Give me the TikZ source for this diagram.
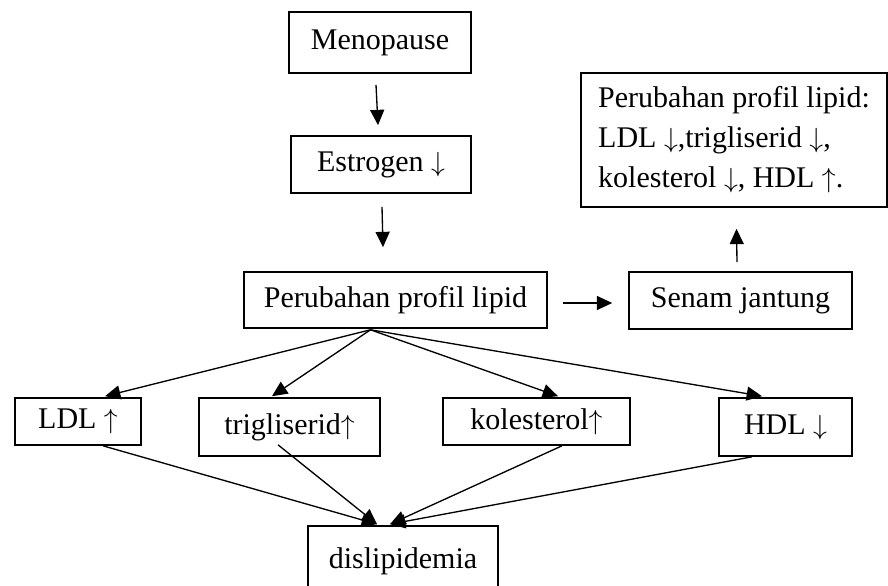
\documentclass[tikz,border=0pt]{standalone}
\usepackage{amsmath}
\usepackage{amssymb}
\usepackage{xcolor}
\usepackage{fontspec}
\setmainfont{Liberation Serif}
\usepackage{tikz}
\usetikzlibrary{calc,arrows.meta}

\begin{document}
\begin{tikzpicture}[
        x=0.75pt, y=-0.75pt,
        font=\fontsize{22.5}{30}\selectfont,
        box/.style 2 args={draw, line width=1.2pt, inner sep=0pt,
            minimum width=#1*0.75pt, minimum height=#2*0.75pt},
        arr/.style={line width=1pt, -{Triangle[length=11.5pt, width=10.5pt]}}
      ]
      \path[use as bounding box, clip] (0,0) rectangle (888,585);

      \node[box={182}{61}] (meno) at (380,42.5) {Menopause};
      \node[box={180}{57}] (estro) at (381,164.5) {Estrogen $\downarrow$};
      \node[box={303}{56}] (perub) at (395.5,300) {Perubahan profil lipid};
      \node[box={223}{57}] (senam) at (740.5,300.5) {Senam jantung};
      \node[box={306}{134}, align=left] (hasil) at (734,140)
        {Perubahan profil lipid:\\LDL $\downarrow$,trigliserid $\downarrow$,\\kolesterol $\downarrow$, HDL $\uparrow$.};
      \node[box={126}{47}] (ldl) at (78,421.5) {LDL $\uparrow$};
      \node[box={181}{58}] (trig) at (289.5,427) {trigliserid$\uparrow$};
      \node[box={187}{47}] (kol) at (536.5,421.5) {kolesterol$\uparrow$};
      \node[box={133}{58}] (hdl) at (785.5,427) {HDL $\downarrow$};
      \node[box={190}{70}] (dis) at (403,561) {dislipidemia};

      \coordinate (pb) at ($(perub.south)+(-25,1)$);
      \coordinate (dl) at ($(dis.north)+(-26,-1)$);
      \coordinate (dr) at ($(dis.north)+(-13,-1)$);

      \draw[arr] ($(meno.south)+(-4,11)$) -- ($(estro.north)+(-3,-10)$);
      \draw[arr] ($(estro.south)+(1,13)$) -- ($(perub.north)+(-12.5,-24)$);
      \draw[arr] ($(perub.east)+(15,3)$) -- ($(senam.west)+(-16,2.5)$);
      \draw[arr] ($(senam.north)+(-3.5,-9)$) -- ($(hasil.south)+(2.5,21)$);

      \draw[arr] (pb) -- ($(ldl.north)+(27,-1)$);
      \draw[arr] (pb) -- ($(trig.north)+(-17.5,-1)$);
      \draw[arr] (pb) -- ($(kol.north)+(21.5,-1)$);
      \draw[arr] (pb) -- ($(hdl.north)+(-23.5,-1)$);

      \draw[arr] ($(ldl.south)+(25,0)$) -- (dl);
      \draw[arr] ($(trig.south)+(-11.5,-12)$) -- (dl);
      \draw[arr] ($(kol.south)+(25.5,0)$) -- (dr);
      \draw[arr] ($(hdl.south)+(-33.5,0)$) -- (dr);
    \end{tikzpicture}
\end{document}
